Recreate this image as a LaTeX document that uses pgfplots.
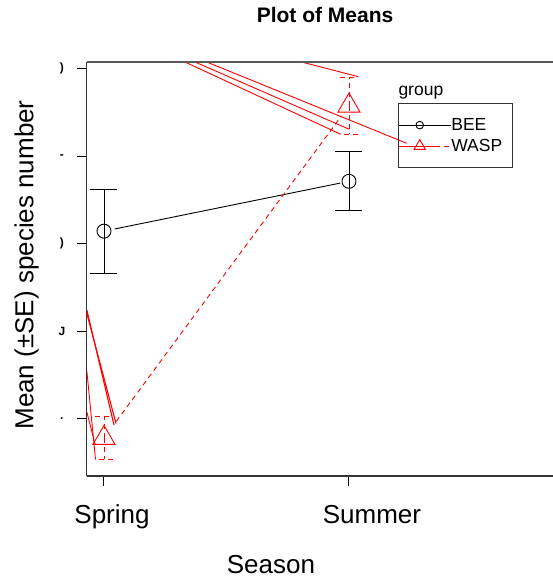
\documentclass[border=0pt]{standalone}
\usepackage{pgfplots}
\pgfplotsset{compat=1.18}
\usepackage{fontspec}
\setmainfont{Liberation Sans}

% Group means with +/- SE, by season
% BEE:  Spring 2.1434 (0.482), Summer 2.713 (0.338)
% WASP: Spring -0.2206 (0.2434), Summer 3.577 (0.328)

\begin{document}
\begin{tikzpicture}[x=1pt,y=1pt]
\begin{axis}[
  name=ax, at={(0,0)}, anchor=south west,
  scale only axis, width=466.15pt, height=414pt,
  xmin=0.93, xmax=2.8327, ymin=-0.6549, ymax=4.0766,
  axis x line*=bottom, axis y line*=left,
  axis line style={-, black!80, line width=1.1pt},
  xtick pos=lower, ytick pos=left,
  tick align=outside, major tick length=10pt,
  tick style={black, line width=1pt},
  xtick={1,2},
  xticklabels={\kern16pt Spring, \kern46pt Summer},
  xticklabel style={anchor=base, yshift=-37pt, font=\fontsize{26}{30}\selectfont},
  ytick={0,1,2,3,4},
  yticklabels={., J, ), -, )},
  yticklabel style={anchor=center, xshift=-15pt, font=\bfseries\fontsize{12}{13}\selectfont},
  title={Plot of Means},
  title style={at={(axis description cs:0.511,1.0814)}, anchor=base, font=\bfseries\fontsize{21}{25}\selectfont},
  xlabel={Season},
  xlabel style={at={(axis description cs:0.3948,-0.2367)}, anchor=base, font=\fontsize{26}{30}\selectfont},
  ylabel={Mean (±SE) species number},
  ylabel style={at={(axis description cs:-0.1149,0.5097)}, anchor=base, font=\fontsize{26}{30}\selectfont},
  legend image code/.code={
    \path (0pt,0pt) -- (51.7pt,0pt);
    \draw[#1, mark repeat=2, mark phase=2] plot coordinates {(4.4pt,0pt) (20.55pt,0pt) (36.7pt,0pt)};
  },
  legend style={at={(axis description cs:0.6681,0.9002)}, anchor=north west,
    draw=black!80, line width=0.9pt, fill=none,
    inner xsep=0pt, inner ysep=10.85pt, row sep=0pt,
    font=\fontsize{17.5}{21}\selectfont,
    nodes={inner sep=0pt, text width=61pt, minimum height=21pt, align=left}},
  legend cell align=left,
]

% stray red strokes, cut off by the plot region
\addplot[forget plot, red, line width=0.9pt] coordinates {(1.3306,4.0766) (1.9661,3.2503)};
\addplot[forget plot, red, line width=0.9pt] coordinates {(1.3714,4.0766) (2.0012,3.3074)};
\addplot[forget plot, red, line width=0.9pt] coordinates {(1.4192,4.0766) (2.2355,3.1474)};
\addplot[forget plot, red, line width=0.9pt] coordinates {(1.8069,4.0766) (2.0380,3.9086)};
\addplot[forget plot, red, line width=1.1pt] coordinates {(0.9300,1.2423) (1.0408,-0.0720)};
\addplot[forget plot, red, line width=1.1pt] coordinates {(0.9300,1.2023) (1.0490,-0.0549)};
\addplot[forget plot, red, line width=0.9pt] coordinates {(0.9300,0.5451) (0.9653,-0.4663)};
\addplot[forget plot, red, line width=0.9pt] coordinates {(0.9300,0.0766) (0.9633,-0.2891)};

% BEE
\addplot[forget plot, black, line width=0.9pt, shorten <=11pt, shorten >=9pt]
  coordinates {(1,2.1434) (2,2.713)};
\addplot[forget plot, black, line width=0.9pt, only marks, mark=o, mark size=7pt,
  error bars/.cd, y dir=both, y explicit,
  error bar style={line width=0.9pt, black},
  error mark options={rotate=90, mark size=13.5pt, line width=0.9pt, black}]
  coordinates {(1,2.1434) +- (0,0.482) (2,2.713) +- (0,0.338)};

% WASP
\addplot[forget plot, red, line width=0.9pt, dash pattern=on 5pt off 4pt, shorten <=20.7pt, shorten >=12.6pt]
  coordinates {(1,-0.2206) (2,3.577)};
\addplot[forget plot, red, line width=0.9pt, only marks, mark=triangle, mark size=12.7pt,
  mark options={solid},
  error bars/.cd, y dir=both, y explicit,
  error bar style={line width=0.9pt, red, dash pattern=on 5pt off 4pt},
  error mark options={rotate=90, mark size=9pt, line width=0.9pt, red, dash pattern=on 5pt off 4pt}]
  coordinates {(1,-0.2206) +- (0,0.2434) (2,3.577) +- (0,0.328)};

\addlegendimage{black, line width=0.9pt, mark=o, mark size=3.8pt}
\addlegendentry{BEE}
\addlegendimage{red, line width=0.9pt, dash pattern=on 5pt off 4pt, mark=triangle, mark size=6.5pt, mark options={solid}}
\addlegendentry{WASP}
\end{axis}

% upper frame edge and legend heading
\draw[black!65, line width=1.1pt] (0,414) -- (466.15,414);
\node[anchor=base west, inner sep=0pt, font=\fontsize{17.5}{21}\selectfont] at (311.45,380) {group};

\pgfresetboundingbox
\path[use as bounding box] (-86.85,-102) rectangle (466.15,476);
\end{tikzpicture}
\end{document}
